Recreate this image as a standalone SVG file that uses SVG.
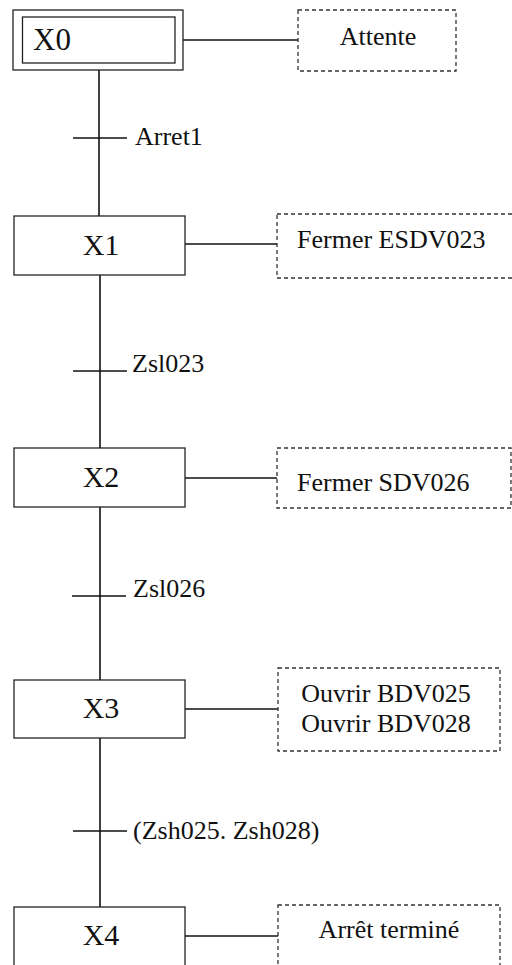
<svg xmlns="http://www.w3.org/2000/svg" width="512" height="965" viewBox="0 0 512 965">
<style>
.step{fill:#fff;stroke:#222;stroke-width:1.3}
.act{fill:#fff;stroke:#333;stroke-width:1.3;stroke-dasharray:4 3}
.ln{stroke:#111;stroke-width:1.6;fill:none}
text{font-family:'Liberation Serif','Times New Roman',serif;fill:#111}
.sx{font-size:30px;text-anchor:middle}
.lb{font-size:26px}
.ac{font-size:26px;text-anchor:middle}
</style>
<rect width="512" height="965" fill="#fff"/>
<g id="connectors">
<line class="ln" x1="99" y1="70" x2="99" y2="216"/>
<line class="ln" x1="100" y1="275" x2="100" y2="448"/>
<line class="ln" x1="100" y1="507" x2="100" y2="680"/>
<line class="ln" x1="100" y1="738" x2="100" y2="907"/>
<line class="ln" x1="73" y1="138" x2="127" y2="138"/>
<line class="ln" x1="73" y1="371" x2="127" y2="371"/>
<line class="ln" x1="72" y1="596" x2="126" y2="596"/>
<line class="ln" x1="73" y1="831" x2="127" y2="831"/>
<line class="ln" x1="183" y1="40" x2="299" y2="40"/>
<line class="ln" x1="185" y1="244" x2="277" y2="244"/>
<line class="ln" x1="185" y1="478" x2="277" y2="478"/>
<line class="ln" x1="185" y1="709" x2="278" y2="709"/>
<line class="ln" x1="185" y1="936" x2="278" y2="936"/>
</g>
<g id="t1"><text class="lb" x="135" y="145">Arret1</text></g>
<g id="t2"><text class="lb" x="132" y="372">Zsl023</text></g>
<g id="t3"><text class="lb" x="133" y="597">Zsl026</text></g>
<g id="t4"><text class="lb" x="133" y="839">(Zsh025. Zsh028)</text></g>
<g id="X0">
<rect class="step" x="13" y="10" width="170" height="60"/>
<rect class="step" x="22.5" y="17" width="152.5" height="46"/>
<text style="font-size:31px" x="33" y="50">X0</text>
</g>
<g id="A0">
<rect class="act" x="298" y="10" width="158" height="61"/>
<text class="ac" x="378" y="45">Attente</text>
</g>
<g id="X1">
<rect class="step" x="14" y="216" width="171" height="59"/>
<text class="sx" x="101" y="255">X1</text>
</g>
<g id="A1">
<rect class="act" x="277" y="214" width="250" height="64"/>
<text class="lb" x="297" y="248">Fermer ESDV023</text>
</g>
<g id="X2">
<rect class="step" x="14" y="448" width="171" height="59"/>
<text class="sx" x="101" y="487">X2</text>
</g>
<g id="A2">
<rect class="act" x="277" y="448" width="234" height="60"/>
<text class="lb" x="297" y="491">Fermer SDV026</text>
</g>
<g id="X3">
<rect class="step" x="14" y="680" width="171" height="58"/>
<text class="sx" x="101" y="718">X3</text>
</g>
<g id="A3">
<rect class="act" x="278" y="668" width="222" height="83"/>
<text class="ac" x="386" y="702">Ouvrir BDV025</text>
<text class="ac" x="386" y="732">Ouvrir BDV028</text>
</g>
<g id="X4">
<rect class="step" x="14" y="907" width="171" height="70"/>
<text class="sx" x="101" y="945">X4</text>
</g>
<g id="A4">
<rect class="act" x="278" y="905" width="222" height="70"/>
<text class="ac" x="389" y="938">Arrêt terminé</text>
</g>
</svg>
